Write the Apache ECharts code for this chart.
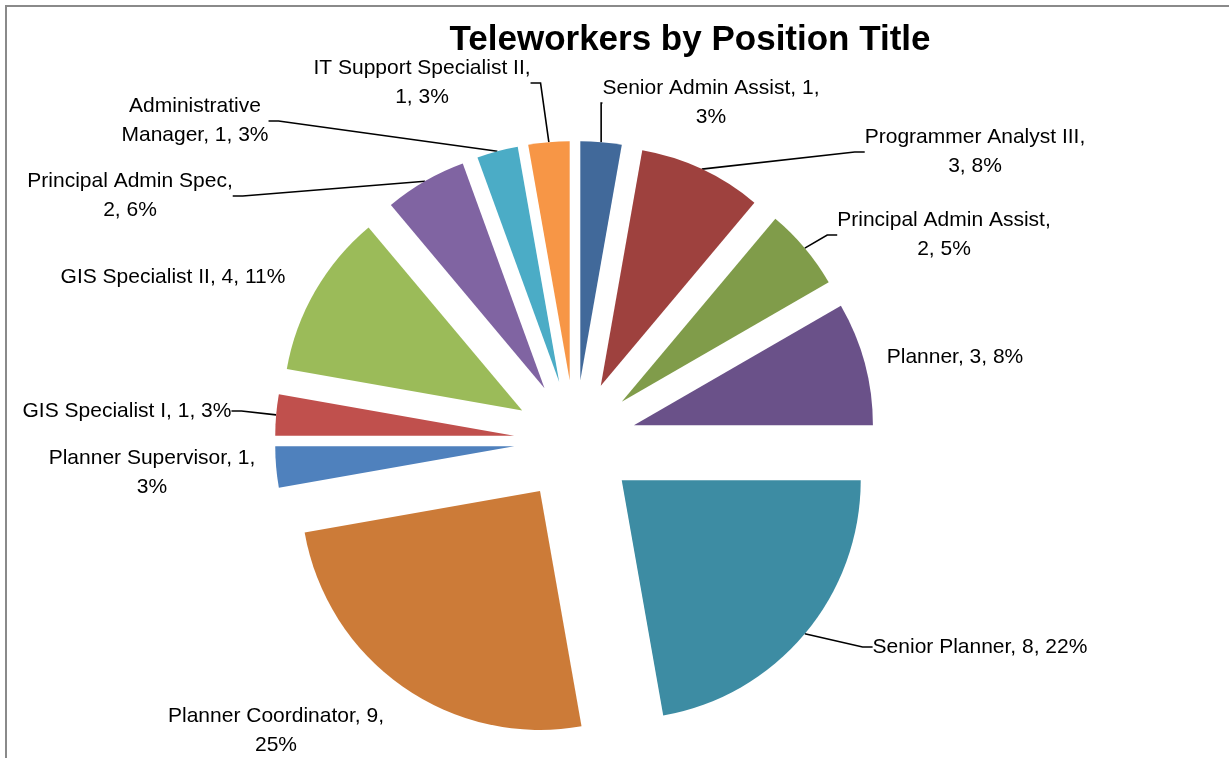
<!DOCTYPE html>
<html>
<head>
<meta charset="utf-8">
<script src="https://cdn.jsdelivr.net/npm/echarts@6/dist/echarts.min.js"></script>
<style>
html, body { margin: 0; padding: 0; background: #fff; }
#main { width: 1229px; height: 758px; }
</style>
</head>
<body>
<div id="main"></div>
<script>
var positions = ["Senior Admin Assist", "Programmer Analyst III", "Principal Admin Assist", "Planner",
  "Senior Planner", "Planner Coordinator", "Planner Supervisor", "GIS Specialist I",
  "GIS Specialist II", "Principal Admin Spec", "Administrative Manager", "IT Support Specialist II"];
var counts = [1, 3, 2, 3, 8, 9, 1, 1, 4, 2, 1, 1];
var percents = [3, 8, 5, 8, 22, 25, 3, 3, 11, 6, 3, 3];

var colors = ["#41699a", "#9e413e", "#809c4a", "#6a5189", "#3d8ca3", "#cc7b38",
  "#4f81bd", "#c0504d", "#9bbb59", "#8064a2", "#4bacc6", "#f79646"];
// where the label text wraps, like excel did it
var wraps = ["value", "name", "name", "", "", "value", "value", "", "", "name", "word", "name"];
var labelSpots = [[711, 103], [975, 152], [944, 235], [955, 357], [980, 647], [276, 731],
  [152, 473], [127, 411], [173, 277], [130, 196], [195, 121], [422, 83]];
var noLine = [3, 5, 6, 8];

var pieCenter = [575, 441], pieRadius = 239, explode = 61;

function labelText(i) {
  var n = positions[i], v = counts[i], p = percents[i] + "%";
  if (wraps[i] == "value") return n + ", " + v + ",\n" + p;
  if (wraps[i] == "name") return n + ",\n" + v + ", " + p;
  if (wraps[i] == "word") {
    var k = n.indexOf(" ");
    return n.slice(0, k) + "\n" + n.slice(k + 1) + ", " + v + ", " + p;
  }
  return n + ", " + v + ", " + p;
}

var total = counts.reduce(function (a, b) { return a + b; }, 0);

// one pie per slice, each pie pushed out along its own slice's middle (exploded pie)
var series = positions.map(function (name, k) {
  var before = 0;
  for (var j = 0; j < k; j++) before += counts[j];
  var mid = (before + counts[k] / 2) / total * Math.PI * 2;
  var c = [pieCenter[0] + explode * Math.sin(mid), pieCenter[1] - explode * Math.cos(mid)];
  return {
    type: "pie",
    center: c,
    radius: pieRadius,
    startAngle: 90,
    clockwise: true,
    silent: true,
    avoidLabelOverlap: false,
    label: {
      show: false,
      formatter: function (p) { return labelText(p.dataIndex); },
      fontFamily: "Liberation Sans",
      fontSize: 21,
      lineHeight: 29,
      color: "#000",
      align: "center"
    },
    labelLine: {
      show: false,
      length: 10,
      length2: 10,
      lineStyle: { color: "#000", width: 1.6 }
    },
    labelLayout: function (params) {
      var s = labelSpots[params.dataIndex];
      return { x: s[0], y: s[1], align: "center", verticalAlign: "middle" };
    },
    data: positions.map(function (n, i) {
      if (i != k) return { name: n, value: counts[i], itemStyle: { opacity: 0 } };
      return {
        name: n, value: counts[i],
        itemStyle: { color: colors[i] },
        label: { show: true },
        labelLine: { show: noLine.indexOf(i) < 0 }
      };
    })
  };
});

var chart = echarts.init(document.getElementById("main"));
chart.setOption({
  animation: false,
  backgroundColor: "#fff",
  title: {
    text: "Teleworkers by Position Title",
    left: 690,
    textAlign: "center",
    top: 23,
    padding: 0,
    textStyle: { fontFamily: "Liberation Sans", fontWeight: "bold", fontSize: 35, color: "#000" }
  },
  graphic: [{
    type: "rect",
    shape: { x: 6, y: 6, width: 1400, height: 900 },
    style: { fill: null, stroke: "#8a8a8a", lineWidth: 2 },
    silent: true
  }],
  series: series
});
</script>
</body>
</html>
